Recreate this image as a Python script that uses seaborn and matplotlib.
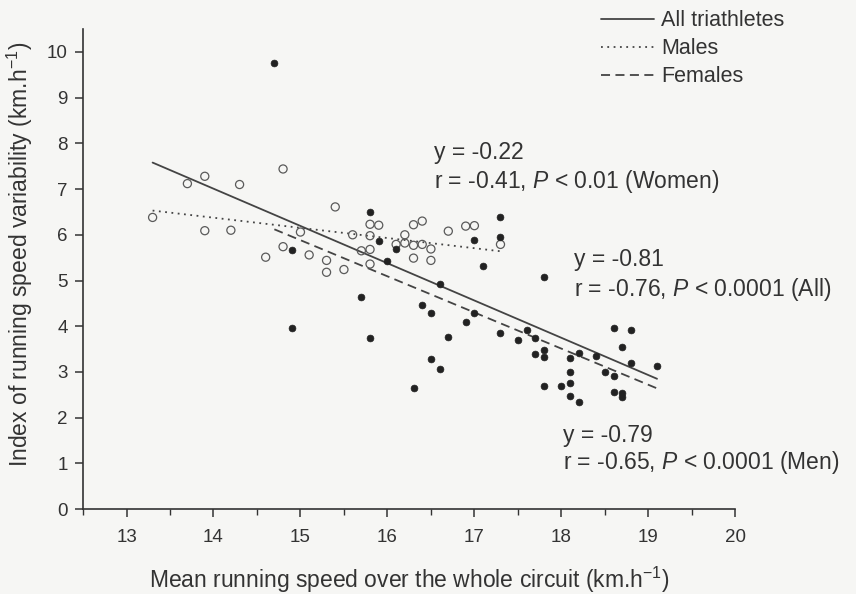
# import necessary libraries
import pandas as pd
import seaborn as sns
import matplotlib.pyplot as plt
from matplotlib.lines import Line2D
from matplotlib.ticker import MultipleLocator

# ===================================================================================================================
# data
women_speed = [13.3, 13.7, 13.9, 14.3, 14.8, 13.9, 14.2, 15.4, 15.8, 15.9, 15.0, 15.6, 15.8, 14.8, 15.1, 14.6,
               15.3, 15.7, 15.8, 15.8, 15.3, 15.5, 16.3, 16.4, 16.9, 17.0, 16.7, 16.2, 16.1, 16.2, 16.3, 16.4,
               16.5, 17.3, 16.3, 16.5]
women_index = [6.38, 7.12, 7.28, 7.10, 7.44, 6.09, 6.10, 6.61, 6.23, 6.21, 6.06, 6.00, 5.98, 5.74, 5.56, 5.51,
               5.44, 5.65, 5.68, 5.36, 5.18, 5.24, 6.22, 6.30, 6.19, 6.20, 6.08, 6.00, 5.79, 5.82, 5.77, 5.79,
               5.69, 5.79, 5.49, 5.44]

men_speed = [14.7, 15.8, 15.9, 14.9, 17.3, 17.3, 16.1, 17.0, 16.0, 17.1, 17.8, 16.6, 15.7, 16.4, 16.5, 17.0,
             16.9, 14.9, 15.8, 16.7, 17.3, 17.5, 17.6, 17.7, 17.8, 17.8, 17.7, 16.5, 16.6, 17.8, 16.3, 18.0,
             18.1, 18.1, 18.1, 18.1, 18.2, 18.2, 18.4, 18.5, 18.6, 18.6, 18.8, 18.7, 18.8, 19.1, 18.6, 18.7, 18.7]
men_index = [9.76, 6.50, 5.87, 5.66, 6.40, 5.96, 5.70, 5.88, 5.42, 5.32, 5.07, 4.93, 4.63, 4.47, 4.28, 4.28,
             4.10, 3.97, 3.74, 3.76, 3.85, 3.70, 3.92, 3.74, 3.49, 3.33, 3.39, 3.29, 3.06, 2.70, 2.64, 2.70,
             3.30, 3.00, 2.76, 2.47, 2.35, 3.41, 3.35, 3.00, 2.90, 3.96, 3.92, 3.54, 3.20, 3.13, 2.56, 2.53, 2.46]

# regression lines: x range and y at both ends
fit_labels = ["All triathletes", "Males", "Females"]
fit_x = [[13.3, 19.1], [13.3, 17.3], [14.7, 19.1]]
fit_y = [[7.58, 2.85], [6.53, 5.64], [6.12, 2.64]]
fit_styles = ["-", (0, (1, 2.5)), (0, (5, 3))]

annotations = [
    ["y = -0.22", "r = -0.41, $P$ < 0.01 (Women)"],
    ["y = -0.81", "r = -0.76, $P$ < 0.0001 (All)"],
    ["y = -0.79", "r = -0.65, $P$ < 0.0001 (Men)"],
]

# ===================================================================================================================
sns.set_style("ticks")
plt.rcParams["font.family"] = ["Liberation Sans", "DejaVu Sans"]
plt.rcParams["mathtext.fontset"] = "custom"
plt.rcParams["mathtext.it"] = "Liberation Sans:italic"
plt.rcParams["mathtext.rm"] = "Liberation Sans"

ink = "#333333"
bg = "#f6f6f4"

fig = plt.figure(figsize=(8.56, 5.94), dpi=100, facecolor=bg)
ax = fig.add_axes([0.097, 0.143, 0.762, 0.808], facecolor=bg)

df_w = pd.DataFrame({"speed": women_speed, "index": women_index})
df_m = pd.DataFrame({"speed": men_speed, "index": men_index})

sns.scatterplot(x="speed", y="index", data=df_w, ax=ax, marker="o", s=34,
                facecolor="none", edgecolor="#5a5a5a", linewidth=0.9, zorder=3)
sns.scatterplot(x="speed", y="index", data=df_m, ax=ax, marker="o", s=24,
                color="#222222", edgecolor="#222222", linewidth=0.5, zorder=4)

# regression lines
for label, xs, ys, style in zip(fit_labels, fit_x, fit_y, fit_styles):
    ax.plot(xs, ys, linestyle=style, color="#444444", linewidth=1.3, zorder=2)

# annotations
text_pos = [(16.53, 7.79, 7.16), (18.14, 5.45, 4.81), (18.02, 1.62, 1.01)]
for (x, y1, y2), (line1, line2) in zip(text_pos, annotations):
    ax.text(x, y1, line1, fontsize=16.5, color=ink, va="center", ha="left")
    ax.text(x, y2, line2, fontsize=16.5, color=ink, va="center", ha="left")

# legend
handles = [Line2D([0], [0], color="#444444", linestyle=st, linewidth=1.3) for st in fit_styles]
leg = fig.legend(handles, fit_labels, loc="upper left", bbox_to_anchor=(0.6915, 0.9975), frameon=False,
                 fontsize=15.5, handlelength=2.5, handletextpad=0.33, labelspacing=0.33, borderaxespad=0)
for t in leg.get_texts():
    t.set_color(ink)

# axes styling
ax.set_xlim(12.5, 20)
ax.set_ylim(0, 10.5)
ax.xaxis.set_minor_locator(MultipleLocator(0.5))
ax.yaxis.set_major_locator(MultipleLocator(1))
ax.set_xticks([13, 14, 15, 16, 17, 18, 19, 20])
ax.tick_params(axis="both", which="major", length=6, width=1.1, color=ink, labelcolor=ink, labelsize=13.5)
ax.tick_params(axis="x", which="minor", length=4, width=1.0, color=ink)
ax.tick_params(axis="x", pad=8)
ax.tick_params(axis="y", pad=5)
sns.despine(ax=ax)
for side in ["left", "bottom"]:
    ax.spines[side].set_color(ink)
    ax.spines[side].set_linewidth(1.2)

ax.set_xlabel("Mean running speed over the whole circuit (km.h$^{\\mathregular{-1}}$)", fontsize=16.5,
              color=ink, labelpad=14)
ax.set_ylabel("Index of running speed variability (km.h$^{\\mathregular{-1}}$)", fontsize=16.5,
              color=ink)
ax.yaxis.set_label_coords(-0.074, 0.53)

plt.savefig("out.png", dpi=100, facecolor=bg)
